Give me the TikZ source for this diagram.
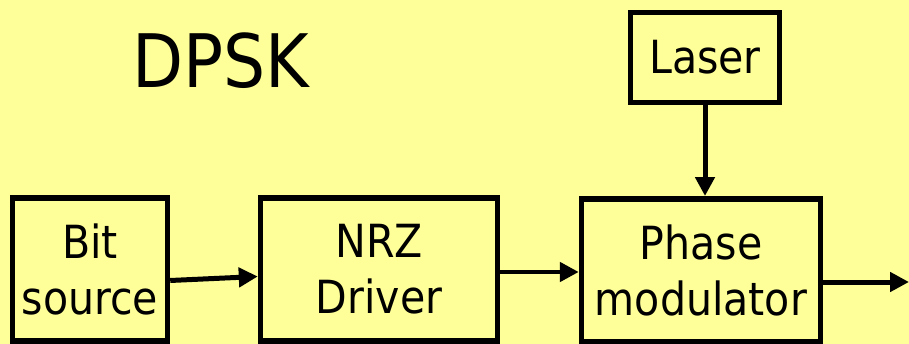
\documentclass[tikz,border=0pt]{standalone}
\usepackage{fontspec}
\setmainfont{DejaVu Sans Condensed}
\usepackage{xcolor}
\usetikzlibrary{positioning,arrows.meta}
\definecolor{slidebg}{HTML}{FFFF99}

\begin{document}
\begin{tikzpicture}[x=0.02cm, y=-0.02cm,
		block/.style={draw, rectangle, line width=0.11cm, align=center, font=\fontsize{26pt}{32pt}\selectfont},
		arr/.style={line width=0.1cm, -{Triangle[length=0.38cm,width=0.38cm]}}]
				\fill[slidebg] (0,0) rectangle (909,344);
				\useasboundingbox (0,0) rectangle (909,344);
				
				\node[anchor=base, font=\fontsize{42pt}{50pt}\selectfont] (title) at (221,88) {DPSK};
				
				\node[block, minimum width=3.1cm, minimum height=2.87cm] (bit) at (90,269.5) {Bit\\source};
				\node[block, minimum width=4.74cm, minimum height=2.87cm] (nrz) at (379,269.5) {NRZ\\Driver};
				\node[block, minimum width=4.78cm, minimum height=2.87cm] (phase) at (701,270.5) {Phase\\modulator};
				\node[block, minimum width=2.98cm, minimum height=1.8cm] (laser) at (705,57.5) {Laser};
				\coordinate (out) at (909,282);
				
				\draw[arr] ([yshift=-0.22cm]bit.east) -- ([yshift=-0.14cm]nrz.west);
				\draw[arr] ([yshift=-0.05cm]nrz.east) -- ([yshift=-0.03cm]phase.west);
				\draw[arr] (laser.south) -- (laser.south |- phase.north);
				\draw[arr] (phase.east |- out) -- (out);
			\end{tikzpicture}
\end{document}
